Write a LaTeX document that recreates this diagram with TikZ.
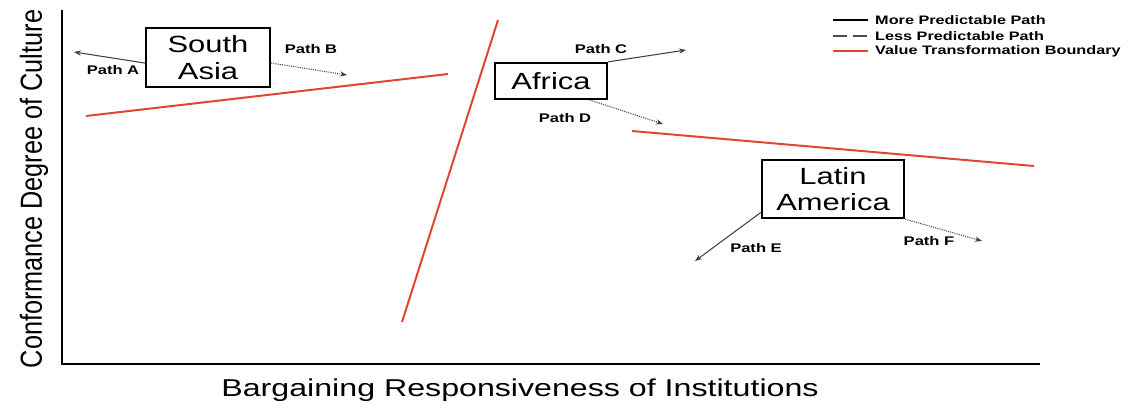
\documentclass[tikz,border=0pt]{standalone}
\usepackage{fontspec}
\setmainfont{Liberation Sans}
\newfontfamily\widefont{Liberation Sans}[FakeStretch=1.32]
\usetikzlibrary{arrows.meta}
\definecolor{boundary}{RGB}{224,70,50}

\begin{document}
\begin{tikzpicture}[x=0.03cm, y=-0.03cm,
        region/.style = {draw, line width=2pt, align=center, inner sep=0pt, font=\widefont\fontsize{20}{22.5}\selectfont},
        pathlabel/.style = {font=\widefont\bfseries\fontsize{10.7}{12}\selectfont},
        legendtext/.style = {anchor=west, inner sep=0pt, font=\widefont\bfseries\fontsize{10.5}{12}\selectfont},
        morepath/.style = {draw=black!75, line width=0.9pt, -{Stealth[length=6pt, width=4.5pt]}},
        lesspath/.style = {draw=black!75, line width=0.9pt, densely dotted, -{Stealth[length=6pt, width=4.5pt]}},
        boundaryline/.style = {draw=boundary, line width=1.7pt}]
        \useasboundingbox (0,0) rectangle (1138,407);

        \coordinate (O) at (62,364);
        \coordinate (ytop) at (62,10);
        \coordinate (xend) at (1040,364);
        \draw[line width=2.4pt] (ytop) -- (O) -- (xend);

        \node[rotate=90] (ylabel) at (34,189) {\scalebox{0.83}[1]{\fontsize{26}{30}\selectfont Conformance Degree of Culture}};
        \node (xlabel) at (520,390) {\widefont\fontsize{20.8}{24}\selectfont Bargaining Responsiveness of Institutions};

        \coordinate (b1s) at (86,116);
        \coordinate (b1e) at (448,74);
        \coordinate (b2s) at (402,322);
        \coordinate (b2e) at (498,20);
        \coordinate (b3s) at (632,131);
        \coordinate (b3e) at (1034,166);
        \draw[boundaryline] (b1s) -- (b1e);
        \draw[boundaryline] (b2s) -- (b2e);
        \draw[boundaryline] (b3s) -- (b3e);

        \node[region, minimum width=3.72cm, minimum height=1.77cm] (SA) at (208,57.5) {South\\Asia};
        \node[region, minimum width=3.36cm, minimum height=1.08cm] (AF) at (551,81) {Africa};
        \node[region, minimum width=4.26cm, minimum height=1.74cm] (LA) at (833,189) {Latin\\America};

        \coordinate (endA) at (74,52);
        \coordinate (endB) at (347,75);
        \coordinate (endC) at (686,50);
        \coordinate (endD) at (663,124);
        \coordinate (endE) at (695,261);
        \coordinate (endF) at (982,241);

        \draw[morepath] (SA.185) -- (endA);
        \draw[lesspath] (SA.-5) -- (endB);
        \draw[morepath] (AF.north east) -- (endC);
        \draw[lesspath] (AF.-26) -- (endD);
        \draw[morepath] (LA.198) -- (endE);
        \draw[lesspath] (LA.south east) -- (endF);

        \node[pathlabel] (labA) at (113,70) {Path A};
        \node[pathlabel] (labB) at (311,49) {Path B};
        \node[pathlabel] (labC) at (601,49) {Path C};
        \node[pathlabel] (labD) at (565,118) {Path D};
        \node[pathlabel] (labE) at (756,248) {Path E};
        \node[pathlabel] (labF) at (929,241) {Path F};

        \coordinate (l1s) at (833,20);
        \coordinate (l1e) at (868,20);
        \coordinate (l2s) at (833,36);
        \coordinate (l2e) at (868,36);
        \coordinate (l3s) at (833,51);
        \coordinate (l3e) at (868,51);
        \draw[line width=1.8pt] (l1s) -- (l1e);
        \draw[line width=1.1pt, draw=black!70, dash pattern=on 12pt off 5pt] (l2s) -- (l2e);
        \draw[boundaryline, line width=1.3pt] (l3s) -- (l3e);
        \node[legendtext] (leg1) at (875,20) {More Predictable Path};
        \node[legendtext] (leg2) at (875,36) {Less Predictable Path};
        \node[legendtext] (leg3) at (875,51) {Value Transformation Boundary};
    \end{tikzpicture}
\end{document}
